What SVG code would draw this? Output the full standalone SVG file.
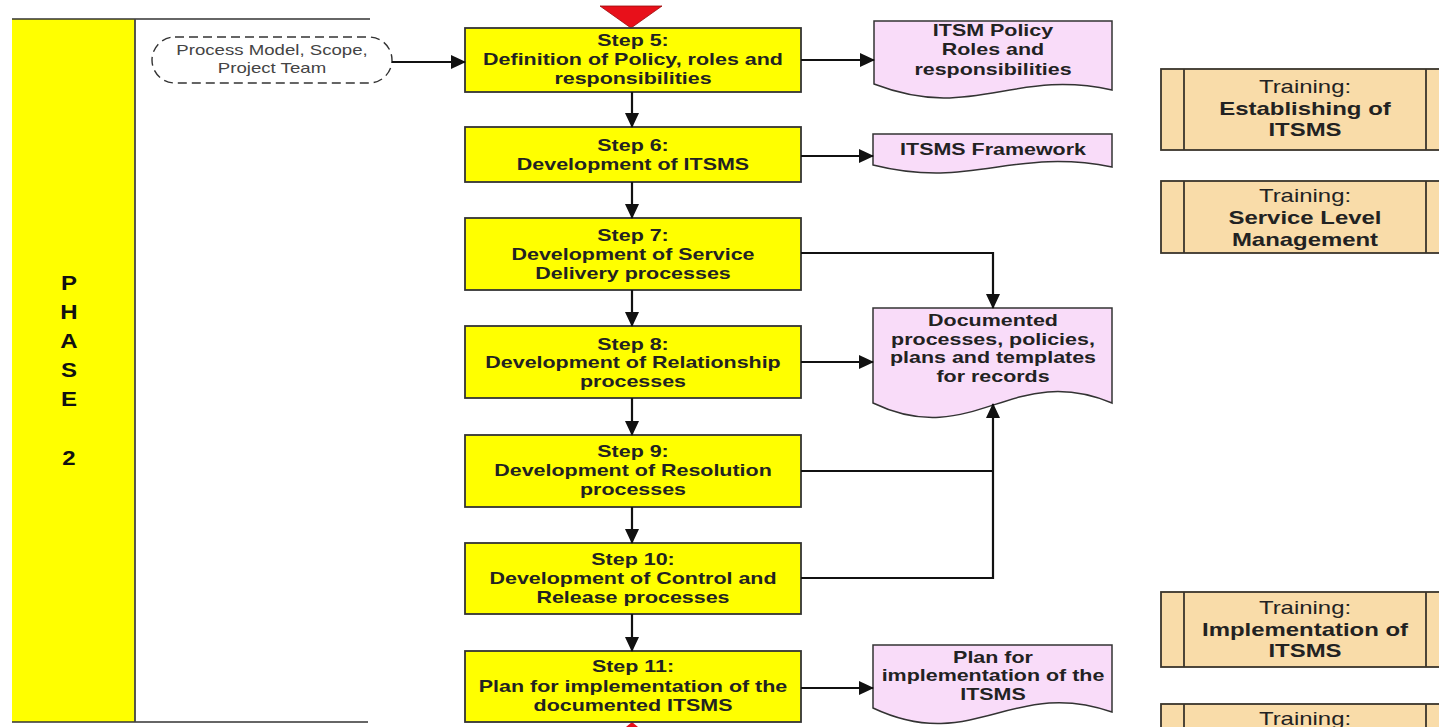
<svg xmlns="http://www.w3.org/2000/svg" width="1439" height="727" viewBox="0 0 1439 727">
<style>
.step{fill:#FFFF00;stroke:#333;stroke-width:1.8}
.doc{fill:#F9DCF9;stroke:#333;stroke-width:1.5}
.trn{fill:#F9DCA9;stroke:#3a352c;stroke-width:1.8}
.trl{stroke:#3a352c;stroke-width:1.8}
.t{font-family:"Liberation Sans",Arial,sans-serif;font-weight:bold;font-size:16.5px;fill:#222;text-anchor:middle}
.tt{font-family:"Liberation Sans",Arial,sans-serif;font-size:18px;fill:#222;text-anchor:middle}
.tb{font-weight:bold}
.ph{font-family:"Liberation Sans",Arial,sans-serif;font-weight:bold;font-size:20px;fill:#111;text-anchor:middle}
.pm{font-family:"Liberation Sans",Arial,sans-serif;font-size:14px;fill:#444;text-anchor:middle}
.c{fill:none;stroke:#111;stroke-width:2.2}
</style>
<defs>
<marker id="ah" markerUnits="userSpaceOnUse" markerWidth="15" markerHeight="14" refX="14" refY="7" orient="auto">
<path d="M0,0 L15,7 L0,14 z" fill="#111"/>
</marker>
</defs>
<rect width="1439" height="727" fill="#fff"/>

<g id="phase">
<rect x="12" y="19" width="123" height="703" fill="#FFFF00"/>
<line x1="12" y1="19" x2="370" y2="19" stroke="#333" stroke-width="1.6"/>
<line x1="12" y1="722" x2="368" y2="722" stroke="#333" stroke-width="1.6"/>
<line x1="135" y1="19" x2="135" y2="722" stroke="#444" stroke-width="1.8"/>
<g transform="translate(69 0) scale(1.2 1)">
<text class="ph" x="0" y="290">P</text>
<text class="ph" x="0" y="319">H</text>
<text class="ph" x="0" y="348">A</text>
<text class="ph" x="0" y="377">S</text>
<text class="ph" x="0" y="406">E</text>
<text class="ph" x="0" y="465">2</text>
</g>
</g>

<g id="triangles">
<polygon points="600,6 662,6 631,28" fill="#E8101A" stroke="#9a0a0a" stroke-width="0.8"/>
<polygon points="626,727 632,722 638,727" fill="#E8101A"/>
</g>

<g id="input">
<rect x="152" y="37" width="240" height="46" rx="23" ry="23" fill="#fff" stroke="#333" stroke-width="1.4" stroke-dasharray="9,5"/>
<g transform="translate(272 0) scale(1.33 1)">
<text class="pm" x="0" y="55">Process Model, Scope,</text>
<text class="pm" x="0" y="73">Project Team</text>
</g>
</g>

<g id="step5">
<rect class="step" x="465" y="28" width="336" height="64"/>
<g transform="translate(633 0) scale(1.3 1)">
<text class="t" x="0" y="46">Step 5:</text>
<text class="t" x="0" y="65">Definition of Policy, roles and</text>
<text class="t" x="0" y="84">responsibilities</text>
</g>
</g>
<g id="step6">
<rect class="step" x="465" y="127" width="336" height="55"/>
<g transform="translate(633 0) scale(1.3 1)">
<text class="t" x="0" y="151">Step 6:</text>
<text class="t" x="0" y="170">Development of ITSMS</text>
</g>
</g>
<g id="step7">
<rect class="step" x="465" y="218" width="336" height="72"/>
<g transform="translate(633 0) scale(1.3 1)">
<text class="t" x="0" y="241">Step 7:</text>
<text class="t" x="0" y="260">Development of Service</text>
<text class="t" x="0" y="279">Delivery processes</text>
</g>
</g>
<g id="step8">
<rect class="step" x="465" y="326" width="336" height="72"/>
<g transform="translate(633 0) scale(1.3 1)">
<text class="t" x="0" y="350">Step 8:</text>
<text class="t" x="0" y="368">Development of Relationship</text>
<text class="t" x="0" y="387">processes</text>
</g>
</g>
<g id="step9">
<rect class="step" x="465" y="435" width="336" height="72"/>
<g transform="translate(633 0) scale(1.3 1)">
<text class="t" x="0" y="457">Step 9:</text>
<text class="t" x="0" y="476">Development of Resolution</text>
<text class="t" x="0" y="495">processes</text>
</g>
</g>
<g id="step10">
<rect class="step" x="465" y="543" width="336" height="71"/>
<g transform="translate(633 0) scale(1.3 1)">
<text class="t" x="0" y="565">Step 10:</text>
<text class="t" x="0" y="584">Development of Control and</text>
<text class="t" x="0" y="603">Release processes</text>
</g>
</g>
<g id="step11">
<rect class="step" x="465" y="651" width="336" height="71"/>
<g transform="translate(633 0) scale(1.3 1)">
<text class="t" x="0" y="672">Step 11:</text>
<text class="t" x="0" y="692">Plan for implementation of the</text>
<text class="t" x="0" y="711">documented ITSMS</text>
</g>
</g>

<g id="doc-policy">
<path class="doc" d="M874,21 H1112 V90 C1012,68 973,122 874,84 Z"/>
<g transform="translate(993 0) scale(1.3 1)">
<text class="t" x="0" y="36">ITSM Policy</text>
<text class="t" x="0" y="55">Roles and</text>
<text class="t" x="0" y="75">responsibilities</text>
</g>
</g>
<g id="doc-framework">
<path class="doc" d="M873,134 H1112 V167 C1012,147 973,190 873,165 Z"/>
<g transform="translate(993 0) scale(1.3 1)">
<text class="t" x="0" y="155">ITSMS Framework</text>
</g>
</g>
<g id="doc-documented">
<path class="doc" d="M873,308 H1112 V403 C1012,361 973,451 873,403 Z"/>
<g transform="translate(993 0) scale(1.3 1)">
<text class="t" x="0" y="326">Documented</text>
<text class="t" x="0" y="345">processes, policies,</text>
<text class="t" x="0" y="363">plans and templates</text>
<text class="t" x="0" y="382">for records</text>
</g>
</g>
<g id="doc-plan">
<path class="doc" d="M873,645 H1112 V712 C1012,677 973,755 873,708 Z"/>
<g transform="translate(993 0) scale(1.3 1)">
<text class="t" x="0" y="663">Plan for</text>
<text class="t" x="0" y="681">implementation of the</text>
<text class="t" x="0" y="700">ITSMS</text>
</g>
</g>

<g id="training1">
<rect class="trn" x="1161" y="69" width="290" height="81"/>
<line class="trl" x1="1184" y1="69" x2="1184" y2="150"/>
<line class="trl" x1="1426" y1="69" x2="1426" y2="150"/>
<g transform="translate(1305 0) scale(1.33 1)">
<text class="tt" x="0" y="93">Training:</text>
<text class="tt tb" x="0" y="115">Establishing of</text>
<text class="tt tb" x="0" y="136">ITSMS</text>
</g>
</g>
<g id="training2">
<rect class="trn" x="1161" y="181" width="290" height="72"/>
<line class="trl" x1="1184" y1="181" x2="1184" y2="253"/>
<line class="trl" x1="1426" y1="181" x2="1426" y2="253"/>
<g transform="translate(1305 0) scale(1.33 1)">
<text class="tt" x="0" y="202">Training:</text>
<text class="tt tb" x="0" y="224">Service Level</text>
<text class="tt tb" x="0" y="246">Management</text>
</g>
</g>
<g id="training3">
<rect class="trn" x="1161" y="592" width="290" height="75"/>
<line class="trl" x1="1184" y1="592" x2="1184" y2="667"/>
<line class="trl" x1="1426" y1="592" x2="1426" y2="667"/>
<g transform="translate(1305 0) scale(1.33 1)">
<text class="tt" x="0" y="614">Training:</text>
<text class="tt tb" x="0" y="636">Implementation of</text>
<text class="tt tb" x="0" y="657">ITSMS</text>
</g>
</g>
<g id="training4">
<rect class="trn" x="1161" y="704" width="290" height="40"/>
<line class="trl" x1="1184" y1="704" x2="1184" y2="727"/>
<line class="trl" x1="1426" y1="704" x2="1426" y2="727"/>
<g transform="translate(1305 0) scale(1.33 1)">
<text class="tt" x="0" y="725">Training:</text>
</g>
</g>

<g id="connectors">
<line class="c" x1="392" y1="62" x2="465" y2="62" marker-end="url(#ah)"/>
<line class="c" x1="801" y1="60" x2="874" y2="60" marker-end="url(#ah)"/>
<line class="c" x1="801" y1="156" x2="873" y2="156" marker-end="url(#ah)"/>
<line class="c" x1="632" y1="92" x2="632" y2="127" marker-end="url(#ah)"/>
<line class="c" x1="632" y1="182" x2="632" y2="218" marker-end="url(#ah)"/>
<line class="c" x1="632" y1="290" x2="632" y2="326" marker-end="url(#ah)"/>
<line class="c" x1="632" y1="398" x2="632" y2="435" marker-end="url(#ah)"/>
<line class="c" x1="632" y1="507" x2="632" y2="543" marker-end="url(#ah)"/>
<line class="c" x1="632" y1="614" x2="632" y2="651" marker-end="url(#ah)"/>
<polyline class="c" points="801,253 993,253 993,308" marker-end="url(#ah)"/>
<line class="c" x1="801" y1="362" x2="873" y2="362" marker-end="url(#ah)"/>
<line class="c" x1="801" y1="471" x2="993" y2="471"/>
<polyline class="c" points="801,578 993,578 993,404" marker-end="url(#ah)"/>
<line class="c" x1="801" y1="688" x2="873" y2="688" marker-end="url(#ah)"/>
</g>
</svg>
